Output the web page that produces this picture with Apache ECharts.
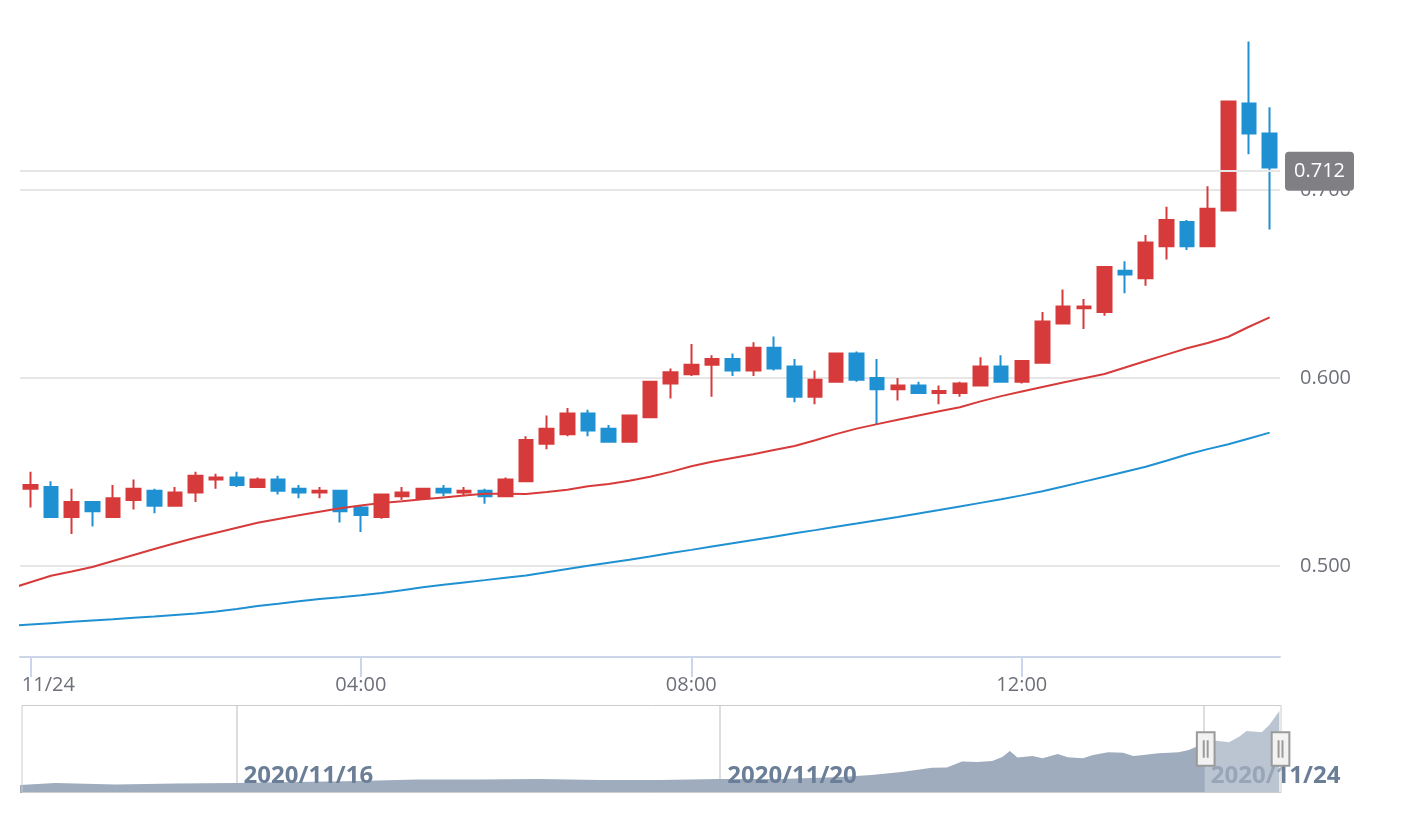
<!DOCTYPE html>
<html lang="en">
<head>
<meta charset="UTF-8">
<title>K线图</title>
<script src="https://cdn.jsdelivr.net/npm/echarts@6/dist/echarts.min.js"></script>
<style>
  html, body { margin: 0; padding: 0; background: #fff; }
  #main { width: 1418px; height: 816px; }
</style>
</head>
<body>
<div id="main"></div>
<script>
// 15 min candles, 2020-11-24
var day = '2020-11-24 ';
var times = ['00:00','00:15','00:30','00:45','01:00','01:15','01:30','01:45','02:00','02:15',
  '02:30','02:45','03:00','03:15','03:30','03:45','04:00','04:15','04:30','04:45',
  '05:00','05:15','05:30','05:45','06:00','06:15','06:30','06:45','07:00','07:15',
  '07:30','07:45','08:00','08:15','08:30','08:45','09:00','09:15','09:30','09:45',
  '10:00','10:15','10:30','10:45','11:00','11:15','11:30','11:45','12:00','12:15',
  '12:30','12:45','13:00','13:15','13:30','13:45','14:00','14:15','14:30','14:45',
  '15:00'];
var opens = [0.541,0.542,0.526,0.534,0.526,0.535,0.540,0.532,0.539,0.546,
  0.547,0.542,0.546,0.541,0.539,0.540,0.531,0.526,0.537,0.536,
  0.541,0.539,0.540,0.537,0.545,0.565,0.570,0.581,0.573,0.566,
  0.579,0.597,0.602,0.607,0.610,0.604,0.616,0.606,0.590,0.598,
  0.613,0.600,0.594,0.596,0.592,0.592,0.596,0.606,0.598,0.608,
  0.629,0.637,0.635,0.657,0.653,0.670,0.683,0.670,0.689,0.746,
  0.730];
var closes = [0.543,0.526,0.534,0.529,0.536,0.541,0.532,0.539,0.548,0.547,
  0.543,0.546,0.540,0.539,0.540,0.529,0.527,0.538,0.539,0.541,
  0.539,0.540,0.537,0.546,0.567,0.573,0.581,0.572,0.566,0.580,
  0.598,0.603,0.607,0.610,0.604,0.616,0.605,0.590,0.599,0.613,
  0.599,0.594,0.596,0.592,0.593,0.597,0.606,0.598,0.609,0.630,
  0.638,0.638,0.659,0.655,0.672,0.684,0.670,0.690,0.747,0.730,
  0.712];
var lows = [0.531,0.526,0.517,0.521,0.526,0.530,0.528,0.532,0.534,0.541,
  0.542,0.542,0.538,0.536,0.536,0.523,0.518,0.525,0.535,0.536,
  0.537,0.537,0.533,0.537,0.545,0.562,0.569,0.569,0.566,0.566,
  0.579,0.589,0.601,0.590,0.601,0.601,0.604,0.587,0.586,0.598,
  0.598,0.575,0.588,0.592,0.586,0.590,0.596,0.598,0.597,0.608,
  0.629,0.626,0.633,0.645,0.649,0.663,0.668,0.670,0.689,0.719,
  0.679];
var highs = [0.550,0.545,0.541,0.534,0.543,0.546,0.541,0.542,0.550,0.549,
  0.550,0.547,0.548,0.543,0.542,0.540,0.532,0.538,0.542,0.541,
  0.543,0.542,0.541,0.547,0.569,0.580,0.584,0.583,0.575,0.580,
  0.598,0.605,0.618,0.612,0.613,0.619,0.622,0.610,0.604,0.613,
  0.614,0.610,0.600,0.598,0.596,0.598,0.611,0.612,0.609,0.635,
  0.647,0.642,0.659,0.662,0.676,0.691,0.684,0.702,0.747,0.779,
  0.744];

// moving averages: first value belongs to the bar before the window
var maPrevTime = '2020-11-23 23:45';
var maFast = [0.4877, 0.4913,0.4947,0.4970,0.4994,0.5026,0.5058,0.5090,0.5120,0.5149,0.5176,
  0.5203,0.5229,0.5249,0.5269,0.5288,0.5307,0.5321,0.5335,0.5344,0.5354,
  0.5364,0.5374,0.5383,0.5384,0.5382,0.5393,0.5405,0.5423,0.5436,0.5453,
  0.5474,0.5500,0.5530,0.5554,0.5574,0.5594,0.5616,0.5638,0.5668,0.5701,
  0.5730,0.5754,0.5777,0.5800,0.5822,0.5844,0.5875,0.5903,0.5928,0.5952,
  0.5976,0.5998,0.6021,0.6055,0.6090,0.6124,0.6158,0.6186,0.6219,0.6272,
  0.6322];
var maSlow = [0.4680, 0.4688,0.4695,0.4702,0.4709,0.4716,0.4724,0.4731,0.4739,0.4747,0.4757,
  0.4770,0.4786,0.4798,0.4811,0.4824,0.4833,0.4843,0.4855,0.4870,0.4886,
  0.4900,0.4912,0.4924,0.4937,0.4949,0.4966,0.4983,0.5000,0.5017,0.5033,
  0.5050,0.5068,0.5085,0.5103,0.5120,0.5137,0.5155,0.5173,0.5190,0.5208,
  0.5225,0.5243,0.5260,0.5279,0.5297,0.5316,0.5335,0.5354,0.5375,0.5397,
  0.5422,0.5448,0.5474,0.5501,0.5527,0.5559,0.5592,0.5621,0.5647,0.5678,
  0.5709];

// navigator (overview) shape
var navTimes = ['2020-11-14 05:00','2020-11-14 12:00','2020-11-15 00:00','2020-11-15 12:00',
  '2020-11-16 00:00','2020-11-16 12:00','2020-11-17 00:00','2020-11-17 12:00',
  '2020-11-18 00:00','2020-11-18 12:00','2020-11-19 00:00','2020-11-19 12:00',
  '2020-11-20 00:00','2020-11-20 12:00','2020-11-21 00:00','2020-11-21 06:00',
  '2020-11-21 12:00','2020-11-21 18:00','2020-11-21 21:00','2020-11-22 00:00',
  '2020-11-22 03:00','2020-11-22 06:00','2020-11-22 08:00','2020-11-22 09:30',
  '2020-11-22 11:00','2020-11-22 14:00','2020-11-22 16:00','2020-11-22 19:00',
  '2020-11-22 21:00','2020-11-23 00:00','2020-11-23 02:00','2020-11-23 05:00',
  '2020-11-23 08:00','2020-11-23 10:00','2020-11-23 12:00','2020-11-23 15:00',
  '2020-11-23 19:00','2020-11-23 21:00','2020-11-23 22:30','2020-11-24 00:00',
  '2020-11-24 02:30','2020-11-24 05:00','2020-11-24 07:00','2020-11-24 08:30',
  '2020-11-24 11:30','2020-11-24 13:00','2020-11-24 15:00'];
var navValues = [0.340,0.350,0.3425,0.3475,0.350,0.355,0.360,0.3675,0.3675,0.370,
  0.365,0.365,0.370,0.370,0.380,0.390,0.405,0.4265,0.4275,0.4575,
  0.455,0.460,0.480,0.510,0.4775,0.485,0.4735,0.495,0.4785,0.4735,
  0.490,0.5035,0.5015,0.485,0.490,0.4985,0.5035,0.515,0.5315,0.565,
  0.5615,0.5535,0.5815,0.610,0.6035,0.640,0.710];

var xTicks = ['2020-11-24 00:00','2020-11-24 04:00','2020-11-24 08:00','2020-11-24 12:00'];
var navTicks = ['2020-11-16 00:00','2020-11-20 00:00','2020-11-24 00:00'];
var yTicks = [0.5, 0.6, 0.7];
var lastPrice = 0.712;

var rangeStart = '2020-11-14 05:00';
var rangeEnd = '2020-11-24 15:07:30';
var viewStart = '2020-11-23 23:52:30';

var upColor = '#d73a3a';
var downColor = '#1f91d3';
var font = 'Open Sans';
var labelColor = '#6e7079';

function ts(s) {
    var p = s.split(/[- :]/);
    return new Date(+p[0], p[1] - 1, +p[2], +(p[3] || 0), +(p[4] || 0), +(p[5] || 0)).getTime();
}
function pad(n) { return n < 10 ? '0' + n : '' + n; }

var candleData = times.map(function (t, i) {
    return [ts(day + t), opens[i], closes[i], lows[i], highs[i]];
});
function maLine(arr) {
    var out = [[ts(maPrevTime), arr[0]]];
    times.forEach(function (t, i) { out.push([ts(day + t), arr[i + 1]]); });
    return out;
}
var navData = navTimes.map(function (t, i) { return [ts(t), navValues[i]]; });
var xTickVals = xTicks.map(ts);
var navTickVals = navTicks.map(ts);

function navDate(v) {
    var d = new Date(v);
    return d.getFullYear() + '/' + pad(d.getMonth() + 1) + '/' + pad(d.getDate());
}

var chart = echarts.init(document.getElementById('main'));
chart.setOption({
    animation: false,
    textStyle: { fontFamily: font },
    grid: [
        { left: 20, right: 138, top: 2, height: 655 },
        { left: 20, right: 138, top: 705, height: 88 }
    ],
    xAxis: [{
        type: 'value',
        gridIndex: 0,
        min: ts(rangeStart),
        max: ts(rangeEnd),
        axisLine: { lineStyle: { color: '#ccd6eb', width: 2 } },
        axisTick: { show: true, length: 20, customValues: xTickVals, lineStyle: { color: '#ccd6eb', width: 2 } },
        axisLabel: {
            customValues: xTickVals,
            margin: 18,
            fontSize: 20,
            color: labelColor,
            fontFamily: font,
            formatter: function (v) {
                var d = new Date(v);
                if (d.getHours() === 0 && d.getMinutes() === 0) {
                    return '{first|' + pad(d.getMonth() + 1) + '/' + pad(d.getDate()) + '}';
                }
                return pad(d.getHours()) + ':' + pad(d.getMinutes());
            },
            rich: {
                first: { fontSize: 20, color: labelColor, fontFamily: font, padding: [0, 0, 0, 36] }
            }
        },
        splitLine: { show: false }
    }, {
        // navigator split lines (under the area)
        type: 'value',
        gridIndex: 1,
        position: 'bottom',
        min: ts(rangeStart),
        max: ts(rangeEnd),
        axisLine: { show: false },
        axisTick: { show: false, customValues: navTickVals },
        axisLabel: { show: false, customValues: navTickVals },
        splitLine: { show: true, customValues: navTickVals, lineStyle: { color: '#dddddd', width: 2 } }
    }, {
        // navigator date labels (over the area, under the zoom window)
        type: 'value',
        gridIndex: 1,
        position: 'bottom',
        offset: 0,
        z: 3,
        min: ts(rangeStart),
        max: ts(rangeEnd),
        axisLine: { show: false },
        axisTick: { show: false, customValues: navTickVals },
        axisLabel: {
            inside: true,
            customValues: navTickVals,
            margin: 5,
            align: 'left',
            padding: [0, 0, 0, 7],
            fontSize: 24,
            fontWeight: 'bold',
            color: '#6b7e97',
            fontFamily: font,
            formatter: navDate
        },
        splitLine: { show: false }
    }],
    yAxis: [{
        type: 'value',
        gridIndex: 0,
        position: 'right',
        min: 0.4515,
        max: 0.8,
        axisLine: { show: false },
        axisTick: { show: false, customValues: yTicks },
        axisLabel: {
            customValues: yTicks,
            margin: 20,
            fontSize: 20,
            color: labelColor,
            fontFamily: font,
            formatter: function (v) { return v.toFixed(3); }
        },
        splitLine: { customValues: yTicks, lineStyle: { color: '#e6e6e6', width: 2 } }
    }, {
        type: 'value',
        gridIndex: 1,
        min: 0.3,
        max: 0.74,
        show: false
    }],
    dataZoom: [{
        type: 'slider',
        xAxisIndex: 0,
        filterMode: 'none',
        startValue: ts(viewStart),
        endValue: ts(rangeEnd),
        left: 20,
        right: 138,
        top: 705,
        height: 88,
        z: 6,
        showDataShadow: false,
        showDetail: false,
        brushSelect: false,
        moveHandleSize: 0,
        backgroundColor: 'rgba(0,0,0,0)',
        borderColor: '#cccccc',
        borderRadius: 0,
        fillerColor: 'rgba(255,255,255,0.3)',
        handleIcon: 'path://M0,0H18V34H0Z M7,8V26 M11,8V26',
        handleSize: '38%',
        handleStyle: { color: '#f2f2f2', borderColor: '#9a9a9a', borderWidth: 2 }
    }],
    series: [{
        name: 'K',
        type: 'candlestick',
        xAxisIndex: 0,
        yAxisIndex: 0,
        barWidth: 14,
        data: candleData,
        itemStyle: {
            color: upColor,
            color0: downColor,
            borderColor: upColor,
            borderColor0: downColor,
            borderWidth: 2
        },
        markLine: {
            silent: true,
            symbol: ['none', 'none'],
            lineStyle: { color: '#e6e6e6', width: 2, type: 'solid' },
            label: {
                position: 'end',
                formatter: function () { return lastPrice.toFixed(3); },
                color: '#fff',
                fontSize: 20,
                fontFamily: font,
                backgroundColor: '#7f7f84',
                borderRadius: 4,
                padding: [10, 9, 9, 9]
            },
            data: [{ yAxis: lastPrice }]
        }
    }, {
        name: 'MA fast',
        type: 'line',
        xAxisIndex: 0,
        yAxisIndex: 0,
        data: maLine(maFast),
        symbol: 'none',
        lineStyle: { color: upColor, width: 2 }
    }, {
        name: 'MA slow',
        type: 'line',
        xAxisIndex: 0,
        yAxisIndex: 0,
        data: maLine(maSlow),
        symbol: 'none',
        lineStyle: { color: downColor, width: 2 }
    }, {
        name: 'nav',
        type: 'line',
        xAxisIndex: 1,
        yAxisIndex: 1,
        data: navData,
        symbol: 'none',
        silent: true,
        lineStyle: { width: 0 },
        areaStyle: { color: '#9eacbe', opacity: 1 }
    }]
});
</script>
</body>
</html>
